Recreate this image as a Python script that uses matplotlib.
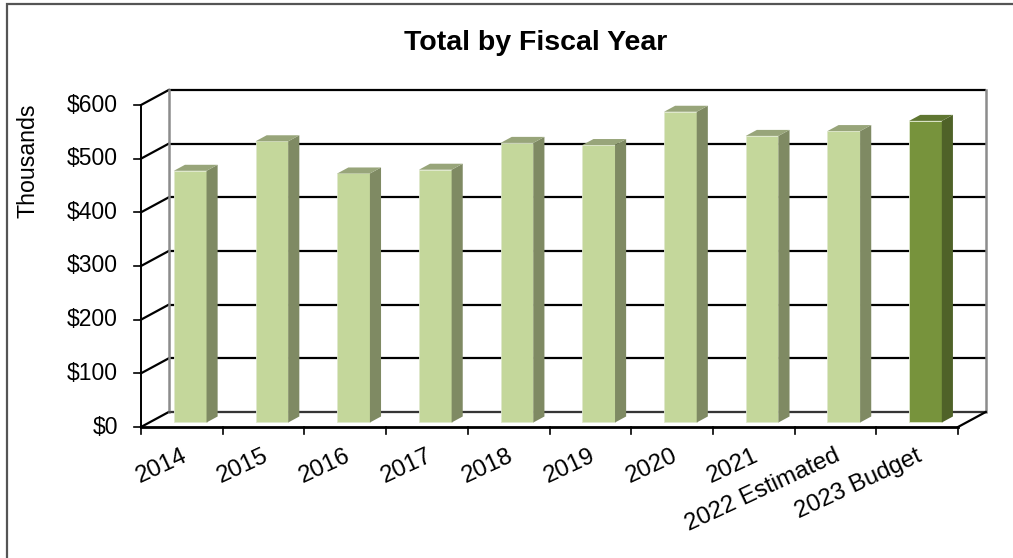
import matplotlib.pyplot as plt
from matplotlib.patches import Polygon, Rectangle

# Data (thousands of dollars)
years = ['2014', '2015', '2016', '2017', '2018', '2019', '2020', '2021',
         '2022 Estimated', '2023 Budget']
totals = [469, 524, 464, 471, 521, 517, 579, 534, 543, 562]
yticks = [0, 100, 200, 300, 400, 500, 600]
ytick_labels = ['$0', '$100', '$200', '$300', '$400', '$500', '$600']

plt.rcParams['font.family'] = ['Liberation Sans', 'DejaVu Sans']

fig = plt.figure(figsize=(10.13, 5.58), dpi=100)
# outer chart border (only top and left fall inside the picture)
fig.patches.append(Rectangle((7/1013, -0.1), 1.2, 1 - 4/558 + 0.1,
                             transform=fig.transFigure, fill=False,
                             edgecolor='#555555', lw=1.6))

ax = fig.add_axes([141/1013, 131/558, 817/1013, 322/558])
ax.set_xlim(0, 10)
ax.set_ylim(0, 600)
ax.axis('off')

n = len(years)
DX, DY = 0.34, 28          # depth of the fake 3D box, in data units
z0, z1 = 0.3, 0.7          # depth range occupied by the bars
w = 0.40                   # bar width

# back wall gridlines + side wall diagonals
for v in yticks:
    ax.plot([DX, n + DX], [v + DY, v + DY], color='black', lw=1.6,
            zorder=1, clip_on=False, solid_capstyle='butt')
    ax.plot([0, DX], [v, v + DY], color='black', lw=1.6, zorder=1,
            clip_on=False)
    ax.plot([0, -0.086], [v, v], color='black', lw=1.2, clip_on=False)
# back wall vertical edges
ax.plot([DX, DX], [DY, 600 + DY], color='#8c8c8c', lw=1.8, zorder=1,
        clip_on=False)
ax.plot([n + DX, n + DX], [DY, 600 + DY], color='#8c8c8c', lw=1.8,
        zorder=1, clip_on=False)
# floor
ax.plot([DX, n + DX], [DY, DY], color='#404040', lw=1.2, zorder=1,
        clip_on=False)
ax.plot([n, n + DX], [0, DY], color='black', lw=1.6, zorder=1,
        clip_on=False)
# front axes
ax.plot([0, 0], [0, 600], color='black', lw=1.4, zorder=5, clip_on=False)
ax.plot([0, n], [0, 0], color='black', lw=2.0, zorder=5, clip_on=False)
for i in range(n + 1):
    ax.plot([i, i], [0, -12.5], color='black', lw=1.2, clip_on=False)

# bars
for i, (yr, v) in enumerate(zip(years, totals)):
    if yr == '2023 Budget':
        front, side, top = '#77933c', '#4f6228', '#5f7631'
    else:
        front, side, top = '#c4d79b', '#7f8a63', '#98a57a'
    xl = i + 0.5 - w / 2
    xr = i + 0.5 + w / 2
    ax.add_patch(Rectangle((xl + z0 * DX, z0 * DY), w, v, facecolor=front,
                           edgecolor='#dfe8cc', lw=0.6, zorder=3, clip_on=False))
    ax.add_patch(Polygon([(xr + z0 * DX, z0 * DY), (xr + z1 * DX, z1 * DY),
                          (xr + z1 * DX, v + z1 * DY), (xr + z0 * DX, v + z0 * DY)],
                         closed=True, facecolor=side, edgecolor='none',
                         zorder=3, clip_on=False))
    ax.add_patch(Polygon([(xl + z0 * DX, v + z0 * DY), (xr + z0 * DX, v + z0 * DY),
                          (xr + z1 * DX, v + z1 * DY), (xl + z1 * DX, v + z1 * DY)],
                         closed=True, facecolor=top, edgecolor='none',
                         zorder=3, clip_on=False))

# tick labels
for v, lab in zip(yticks, ytick_labels):
    ax.annotate(lab, (0, v), xytext=(-23, 0), textcoords='offset pixels',
                ha='right', va='center', fontsize=16.5)
for i, yr in enumerate(years):
    ax.annotate(yr, (i + 0.5, 0), xytext=(-1, -18), textcoords='offset pixels',
                ha='right', va='top', rotation=25, rotation_mode='anchor',
                fontsize=17.4)

fig.text(536/1013, 1 - 43/558, 'Total by Fiscal Year', ha='center',
         va='center', fontsize=20.5, fontweight='bold')
fig.text(28/1013, 1 - 161/558, 'Thousands', ha='center', va='center',
         rotation=90, fontsize=16.7)

fig.savefig('out.png', dpi=100)
